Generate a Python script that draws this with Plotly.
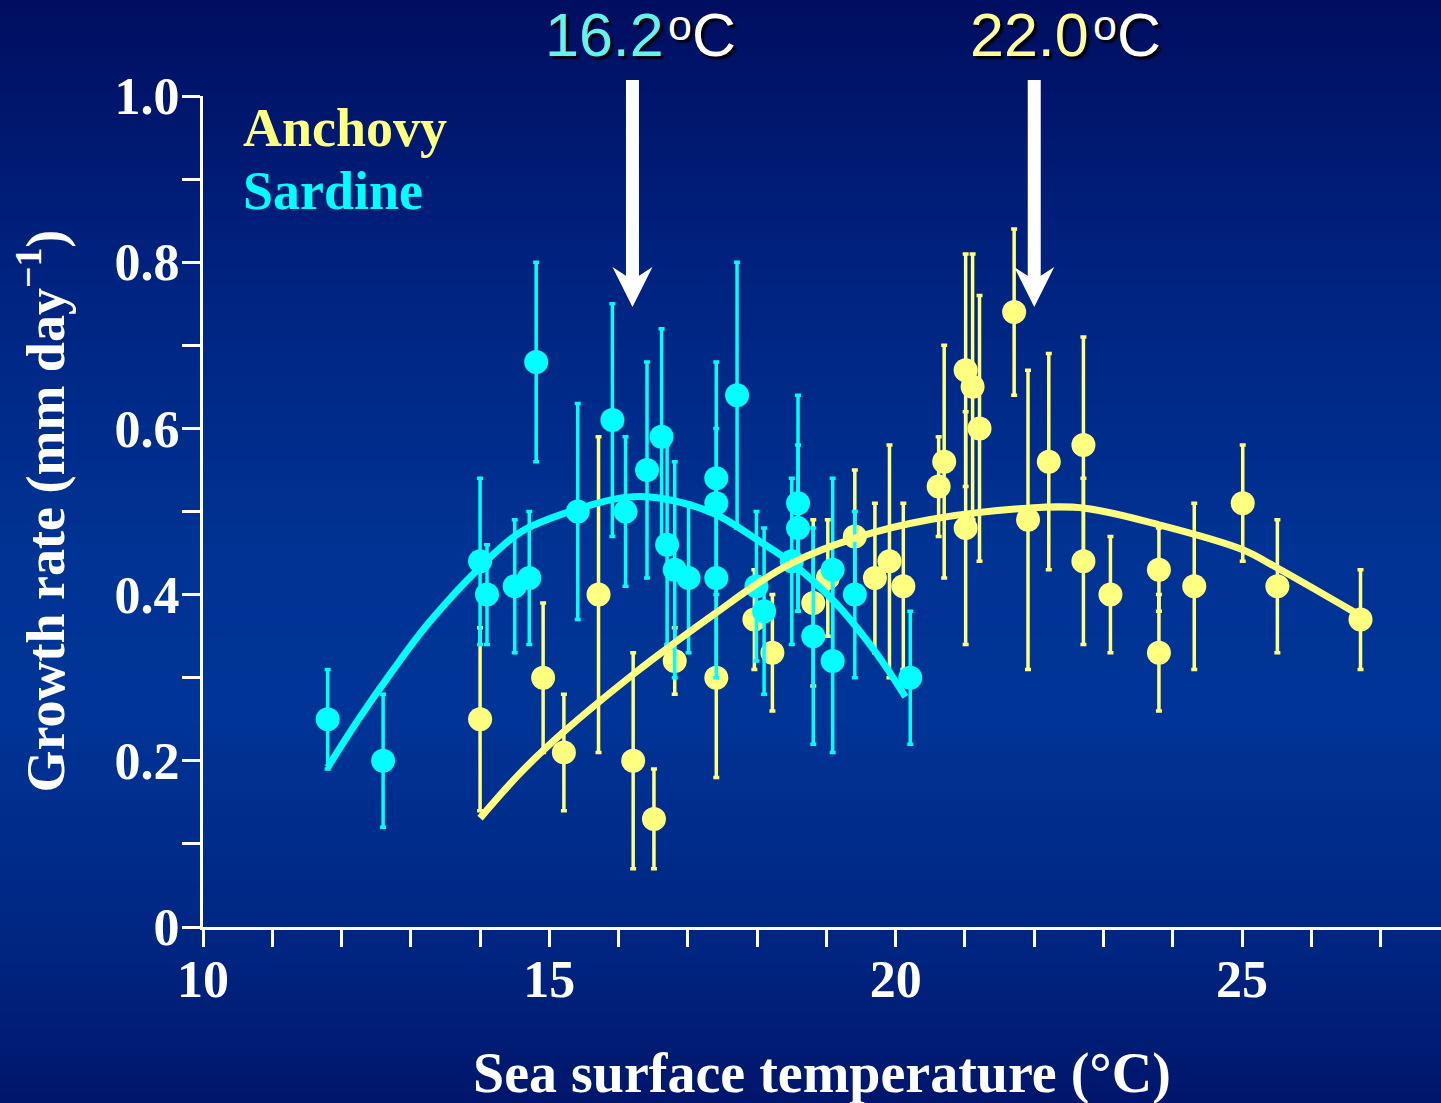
import plotly.graph_objects as go

# ---------------- data ----------------
sardine_x = [11.80, 12.60, 14.00, 14.10, 14.50, 14.71, 14.81, 15.41, 15.91, 16.10, 16.41, 16.62, 16.70, 16.81, 17.01,
             17.41, 17.41, 17.41, 17.71, 17.99, 18.10, 18.50, 18.59, 18.59, 18.81, 19.09, 19.09, 19.41, 20.21]
sardine_y = [0.25, 0.20, 0.44, 0.40, 0.41, 0.42, 0.68, 0.50, 0.61, 0.50, 0.55, 0.59, 0.46, 0.43, 0.42,
             0.54, 0.51, 0.42, 0.64, 0.41, 0.38, 0.44, 0.51, 0.48, 0.35, 0.43, 0.32, 0.40, 0.30]
sardine_err = [0.06, 0.08, 0.10, 0.06, 0.08, 0.08, 0.12, 0.13, 0.14, 0.09, 0.13, 0.13, 0.12, 0.13, 0.09,
               0.14, 0.09, 0.12, 0.16, 0.09, 0.10, 0.10, 0.13, 0.10, 0.13, 0.11, 0.11, 0.10, 0.08]

anchovy_x = [14.00, 14.91, 15.21, 15.71, 16.21, 16.51, 16.81, 17.41, 17.96, 18.22, 18.81, 19.02, 19.41, 19.70,
             19.91, 20.11, 20.62, 20.70, 21.01, 21.01, 21.11, 21.21, 21.71, 21.91, 22.21, 22.71, 22.71, 23.10,
             23.80, 23.80, 24.31, 25.01, 25.51, 26.71]
anchovy_y = [0.25, 0.30, 0.21, 0.40, 0.20, 0.13, 0.32, 0.30, 0.37, 0.33, 0.39, 0.42, 0.47, 0.42,
             0.44, 0.41, 0.53, 0.56, 0.67, 0.48, 0.65, 0.60, 0.74, 0.49, 0.56, 0.58, 0.44, 0.40,
             0.43, 0.33, 0.41, 0.51, 0.41, 0.37]
anchovy_err = [0.11, 0.09, 0.07, 0.19, 0.13, 0.06, 0.04, 0.12, 0.06, 0.07, 0.10, 0.07, 0.08, 0.09,
               0.14, 0.10, 0.06, 0.14, 0.14, 0.14, 0.16, 0.16, 0.10, 0.18, 0.13, 0.13, 0.10, 0.07,
               0.05, 0.07, 0.10, 0.07, 0.08, 0.06]

sardine_fit_x = [11.80, 12.23, 12.75, 13.26, 14.00, 14.60, 15.41, 16.10, 16.61, 17.39, 18.00, 18.50, 19.11, 19.69, 20.14]
sardine_fit_y = [0.192, 0.248, 0.310, 0.366, 0.433, 0.476, 0.503, 0.517, 0.516, 0.497, 0.466, 0.438, 0.392, 0.333, 0.277]

anchovy_fit_x = [14.00, 14.60, 15.21, 16.21, 16.81, 17.39, 18.00, 18.50, 19.41, 20.48, 21.91, 22.73, 23.80, 25.01, 25.51, 26.64]
anchovy_fit_y = [0.131, 0.187, 0.235, 0.304, 0.342, 0.377, 0.413, 0.438, 0.468, 0.490, 0.504, 0.504, 0.484, 0.454, 0.432, 0.378]

sardine_opt = 16.2
anchovy_opt = 22.0

x_tickvals = [10, 15, 20, 25]
x_ticktext = ["10", "15", "20", "25"]
y_tickvals = [0, 0.2, 0.4, 0.6, 0.8, 1.0]
y_ticktext = ["0", "0.2", "0.4", "0.6", "0.8", "1.0"]

# ---------------- style ----------------
W, H = 1441, 1103
ML, MR, MT, MB = 203, 0, 96, 176
PW, PH = W - ML - MR, H - MT - MB
CYAN = "#00ffff"
YELLOW = "#ffff80"
SERIF = "Liberation Serif, Times New Roman, serif"
SANS = "Liberation Sans, Arial, sans-serif"
SHADOW = "3px 3px 2px rgba(0,0,0,0.85)"


def px_to_paper_y(py):
    return (H - MB - py) / PH


def px_to_paper_x(px):
    return (px - ML) / PW


fig = go.Figure()

# Anchovy points
fig.add_trace(go.Scatter(
    x=anchovy_x, y=anchovy_y, mode="markers",
    marker=dict(color=YELLOW, size=24, line=dict(width=0)),
    error_y=dict(type="data", array=anchovy_err, visible=True, color=YELLOW, thickness=3.5, width=3),
    cliponaxis=False, showlegend=False, name="Anchovy"))
# Sardine points
fig.add_trace(go.Scatter(
    x=sardine_x, y=sardine_y, mode="markers",
    marker=dict(color=CYAN, size=24, line=dict(width=0)),
    error_y=dict(type="data", array=sardine_err, visible=True, color=CYAN, thickness=3.5, width=3),
    cliponaxis=False, showlegend=False, name="Sardine"))
# Fitted curves
fig.add_trace(go.Scatter(
    x=sardine_fit_x, y=sardine_fit_y, mode="lines",
    line=dict(color=CYAN, width=7, shape="spline", smoothing=1.0),
    showlegend=False, hoverinfo="skip"))
fig.add_trace(go.Scatter(
    x=anchovy_fit_x, y=anchovy_fit_y, mode="lines",
    line=dict(color=YELLOW, width=7, shape="spline", smoothing=1.0),
    showlegend=False, hoverinfo="skip"))

# ---------------- background gradient ----------------
stops = [(0.0, (0, 14, 96)), (0.25, (0, 35, 128)), (0.5, (0, 51, 148)), (0.65, (0, 52, 150)),
         (0.85, (0, 38, 130)), (1.0, (0, 22, 108))]


def grad(t):
    for (t0, c0), (t1, c1) in zip(stops[:-1], stops[1:]):
        if t0 <= t <= t1:
            f = (t - t0) / (t1 - t0)
            return "rgb(%d,%d,%d)" % tuple(round(a + (b - a) * f) for a, b in zip(c0, c1))
    return "rgb(%d,%d,%d)" % stops[-1][1]


shapes = []
N = 120
for i in range(N):
    py0 = i * H / N
    py1 = (i + 1) * H / N + 1
    shapes.append(dict(type="rect", xref="paper", yref="paper",
                       x0=px_to_paper_x(-2), x1=px_to_paper_x(W + 2),
                       y0=px_to_paper_y(py0), y1=px_to_paper_y(py1),
                       fillcolor=grad((i + 0.5) / N), line=dict(width=0), layer="below"))

# ---------------- arrows ----------------
for xo in (sardine_opt, anchovy_opt):
    shapes.append(dict(type="rect", xref="x", yref="paper", xsizemode="pixel", xanchor=xo,
                       x0=-6.5, x1=6.5, y0=px_to_paper_y(80), y1=px_to_paper_y(282),
                       fillcolor="white", line=dict(width=0), layer="above"))
    path = "M -20,{w} L 0,{t} L 20,{w} L 0,{n} Z".format(
        w=px_to_paper_y(267), t=px_to_paper_y(307), n=px_to_paper_y(280))
    shapes.append(dict(type="path", xref="x", yref="paper", xsizemode="pixel", xanchor=xo,
                       path=path, fillcolor="white", line=dict(width=0), layer="above"))

annotations = [
    dict(text="Anchovy", x=px_to_paper_x(241), y=px_to_paper_y(128), xref="paper", yref="paper",
         xanchor="left", yanchor="middle", showarrow=False,
         font=dict(family=SERIF, size=54, color=YELLOW, weight="bold")),
    dict(text="Sardine", x=px_to_paper_x(241), y=px_to_paper_y(191), xref="paper", yref="paper",
         xanchor="left", yanchor="middle", showarrow=False,
         font=dict(family=SERIF, size=54, color=CYAN, weight="bold")),
    dict(text="Growth rate (mm day<sup>\u22121</sup>)", x=px_to_paper_x(42), y=0.5,
         xref="paper", yref="paper", textangle=-90, xanchor="center", yanchor="middle", showarrow=False,
         font=dict(family=SERIF, size=54, color="white", weight="bold")),
    dict(text="Sea surface temperature (\u00b0C)", x=0.5, y=px_to_paper_y(1073),
         xref="paper", yref="paper", xanchor="center", yanchor="middle", showarrow=False,
         font=dict(family=SERIF, size=56, color="white", weight="bold")),
]

# optimum-temperature labels: number (coloured), raised "o", and "C"
for xo, col, shift in ((sardine_opt, "#66f2ea", 33), (anchovy_opt, "#ffff99", 56)):
    annotations.append(dict(text="%.1f" % xo, x=xo, xshift=shift, y=px_to_paper_y(0),
                            xref="x", yref="paper", xanchor="right", yanchor="top", showarrow=False,
                            borderpad=0,
                            font=dict(family=SANS, size=61, color=col, shadow=SHADOW)))
    annotations.append(dict(text="o", x=xo, xshift=shift + 2, y=px_to_paper_y(0),
                            xref="x", yref="paper", xanchor="left", yanchor="top", showarrow=False,
                            borderpad=0,
                            font=dict(family=SANS, size=43, color="white", shadow=SHADOW)))
    annotations.append(dict(text="C", x=xo, xshift=shift + 26, y=px_to_paper_y(0),
                            xref="x", yref="paper", xanchor="left", yanchor="top", showarrow=False,
                            borderpad=0,
                            font=dict(family=SANS, size=61, color="white", shadow=SHADOW)))

x_max = 10 + PW / 69.27

fig.update_layout(
    width=W, height=H,
    margin=dict(l=ML, r=MR, t=MT, b=MB, pad=0),
    paper_bgcolor="#00238a",
    plot_bgcolor="rgba(0,0,0,0)",
    showlegend=False,
    shapes=shapes,
    annotations=annotations,
    xaxis=dict(range=[10, x_max], showgrid=False, zeroline=False,
               showline=True, linecolor="white", linewidth=3,
               tickmode="array", tickvals=x_tickvals, ticktext=x_ticktext,
               ticks="outside", ticklen=17, tickwidth=3, tickcolor="white",
               ticklabelstandoff=-12,
               tickfont=dict(family=SERIF, size=52, color="white", weight="bold"),
               minor=dict(dtick=1, tick0=10, ticks="outside", ticklen=17, tickwidth=3,
                          tickcolor="white", showgrid=False)),
    yaxis=dict(range=[0, 1.0], showgrid=False, zeroline=False,
               showline=True, linecolor="white", linewidth=3,
               tickmode="array", tickvals=y_tickvals, ticktext=y_ticktext,
               ticks="outside", ticklen=18, tickwidth=3, tickcolor="white",
               ticklabelstandoff=-8,
               tickfont=dict(family=SERIF, size=52, color="white", weight="bold"),
               minor=dict(dtick=0.1, tick0=0, ticks="outside", ticklen=18, tickwidth=3,
                          tickcolor="white", showgrid=False)),
)

fig.write_html("out.html", config={"displayModeBar": False},
               post_script="document.body.style.margin='0px';")
